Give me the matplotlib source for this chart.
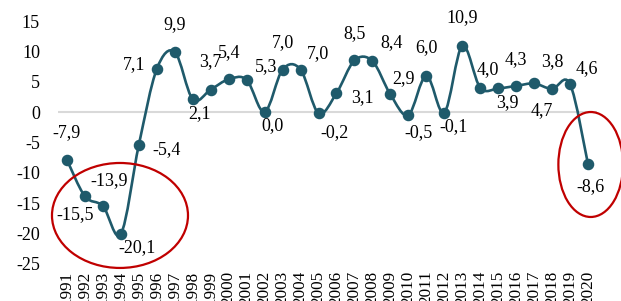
import numpy as np
import matplotlib
matplotlib.use("Agg")
import matplotlib.pyplot as plt
from matplotlib.path import Path
from matplotlib.patches import PathPatch, Ellipse

years = list(range(1991, 2021))
values = [-7.9, -13.9, -15.5, -20.1, -5.4, 7.1, 9.9, 2.1, 3.7, 5.4,
          5.3, 0.0, 7.0, 7.0, -0.2, 3.1, 8.5, 8.4, 2.9, -0.5,
          6.0, -0.1, 10.9, 4.0, 3.9, 4.3, 4.7, 3.8, 4.6, -8.6]
yticks = [-25, -20, -15, -10, -5, 0, 5, 10, 15]

# label offsets in pixels (dx, dy up)
label_off = [(0, 27), (24, 16), (-28, -9), (16, -14), (28, -5), (-23, 4), (0, 27), (7, -14), (0, 28), (0, 27),
             (19, 13), (8, -14), (0, 27), (17, 16), (16, -19), (26, -4), (0, 27), (19, 18), (13, 16), (10, -18),
             (0, 28), (9, -14), (0, 28), (8, 18), (9, -14), (0, 26), (8, -27), (0, 27), (17, 16), (2, -22)]

line_col = "#1F5A6B"
red = "#C00000"
plt.rcParams['font.family'] = ['Liberation Serif', 'DejaVu Serif']

fig = plt.figure(figsize=(6.21, 3.01), dpi=100)
ax = fig.add_axes([58 / 621, 37.3 / 301, 539 / 621, 242.7 / 301])

x = np.array(years, dtype=float)
y = np.array(values)

# smoothed line like excel (cardinal spline through the points)
verts = [(x[0], y[0])]
codes = [Path.MOVETO]
n = len(x)
for i in range(n - 1):
    p0 = np.array([x[max(i - 1, 0)], y[max(i - 1, 0)]])
    p1 = np.array([x[i], y[i]])
    p2 = np.array([x[i + 1], y[i + 1]])
    p3 = np.array([x[min(i + 2, n - 1)], y[min(i + 2, n - 1)]])
    c1 = p1 + (p2 - p0) / 6
    c2 = p2 - (p3 - p1) / 6
    verts += [tuple(c1), tuple(c2), tuple(p2)]
    codes += [Path.CURVE4] * 3
ax.add_patch(PathPatch(Path(verts, codes), fill=False, edgecolor=line_col, lw=1.9, zorder=3))
ax.plot(x, y, 'o', color=line_col, markersize=7.3, zorder=4)

ax.axhline(0, color="#D9D9D9", lw=1.5, zorder=1)

for xi, yi, v, off in zip(x, y, values, label_off):
    ax.annotate(f"{v:.1f}".replace(".", ","), (xi, yi), xytext=off, textcoords='offset pixels',
                ha='center', va='center', fontsize=13, zorder=5)

ax.add_patch(Ellipse((1993.95, -17.05), 7.57, 17.3, fill=False, edgecolor=red, lw=1.6, clip_on=False, zorder=6))
ax.add_patch(Ellipse((2020.15, -8.65), 3.6, 17.3, fill=False, edgecolor=red, lw=1.6, clip_on=False, zorder=6))

ax.set_xlim(1990.5, 2020.5)
ax.set_ylim(-25, 15)
ax.set_yticks(yticks)
ax.set_yticklabels([str(t) for t in yticks], fontsize=13)
ax.set_xticks(years)
ax.set_xticklabels([str(t) for t in years], rotation=90, fontsize=12.3, va='top')
ax.tick_params(axis='y', length=0, pad=13)
ax.tick_params(axis='x', length=0, pad=5)
for s in ax.spines.values():
    s.set_visible(False)

fig.savefig("out.png", dpi=100)
